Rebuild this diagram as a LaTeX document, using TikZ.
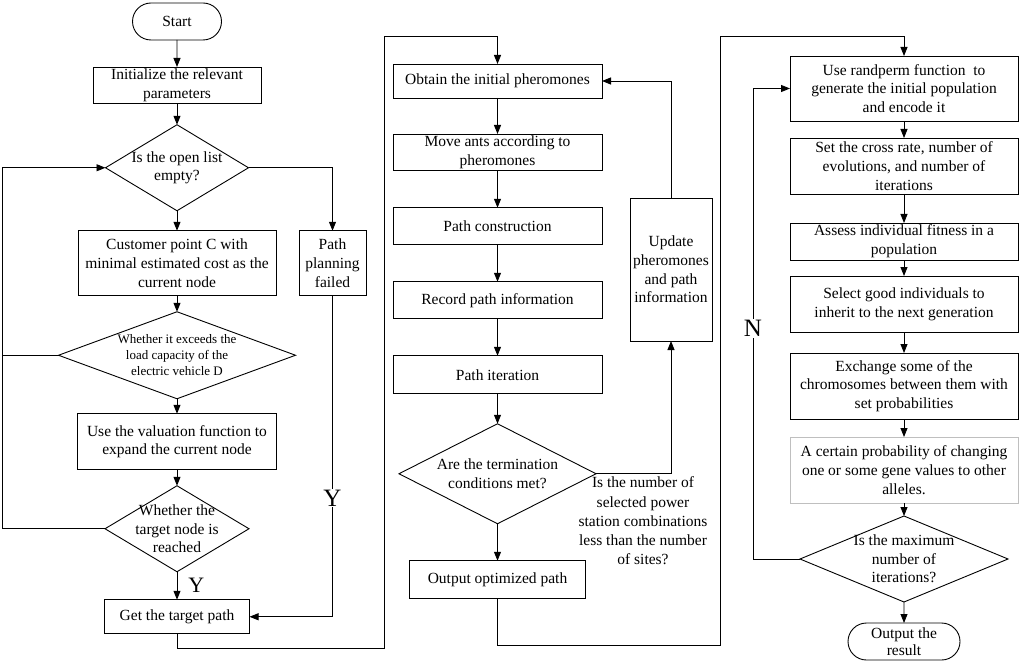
\documentclass[tikz,border=0pt]{standalone}
\usepackage{fontspec}
\setmainfont{Liberation Serif}
\usetikzlibrary{arrows.meta,positioning,shapes.geometric,shapes.misc}
\tikzset{
  base/.style={draw,line width=0.9pt,align=center,inner sep=2pt,outer sep=0pt,font=\fontsize{15.5}{18.7}\selectfont},
  term/.style={base,rounded rectangle},
  proc/.style={base,rectangle},
  decide/.style={base,diamond,inner sep=-10pt},
  note/.style={align=center,inner sep=1pt,font=\fontsize{15.5}{19.3}\selectfont},
  sz/.style 2 args={minimum width=#1,minimum height=#2},
  ylab/.style={fill=white,inner sep=1pt,font=\fontsize{25}{25}\selectfont}
}

\begin{document}
\begin{tikzpicture}[
    x=1pt,y=1pt,
    line width=0.9pt,
    >={Triangle[length=9pt,width=7pt]}
]
\useasboundingbox (0,0) rectangle (1024,-668);

% =========================================================
% Left column
% =========================================================

\node[term,sz={93pt}{37pt}] (start) at (177,-21.5) {Start};
\node[proc,sz={168pt}{35pt},below=27pt of start] (init) {Initialize the relevant\\parameters};
\node[decide,sz={143pt}{86pt},aspect=1.66,below=21pt of init] (open) {Is the open list\\empty?};
\node[proc,sz={198pt}{65pt},below=20pt of open] (cust) {Customer point C with\\minimal estimated cost as the\\current node};
\node[decide,sz={237pt}{87pt},aspect=2.72,below=16pt of cust,font=\fontsize{13}{16}\selectfont] (load) {Whether it exceeds the\\load capacity of the\\electric vehicle D};
\node[proc,sz={199pt}{56pt},below=15pt of load] (valu) {Use the valuation function to\\expand the current node};
\node[decide,sz={144pt}{86pt},aspect=1.67,below=16pt of valu] (reach) {Whether the\\target node is\\reached};
\node[proc,sz={145pt}{34pt},below=28pt of reach] (get) {Get the target path};

\node[proc,sz={67pt}{65pt},right=23pt of cust] (fail) {Path\\planning\\failed};

\coordinate (lp) at (2,0);

\draw[->] (start) -- (init);
\draw[->] (init) -- (open);
\draw[->] (open) -- (cust);
\draw[->] (cust) -- (load);
\draw[->] (load) -- (valu);
\draw[->] (valu) -- (reach);
\draw[->] (reach) -- node[ylab,right=10pt,font=\fontsize{22}{22}\selectfont] {Y} (get);

\draw[->] (load.west) -| (lp |- open.west) -- (open.west);
\draw (reach.west) -| (lp |- load.west);

\draw[->] (open.east) -| (fail.north);
\draw[->] (fail.south) |- node[ylab,pos=0.315] {Y} (get.east);


% =========================================================
% Middle column
% =========================================================

\node[proc,sz={209pt}{34pt}] (obtain) at (497.5,-81) {Obtain the initial pheromones};
\node[proc,sz={209pt}{34pt},below=36pt of obtain] (move) {Move ants according to\\pheromones};
\node[proc,sz={209pt}{37pt},below=37pt of move] (pcon) {Path construction};
\node[proc,sz={209pt}{37pt},below=37pt of pcon] (rec) {Record path information};
\node[proc,sz={209pt}{38pt},below=37pt of rec] (iter) {Path iteration};
\node[decide,sz={197pt}{100pt},aspect=1.97,below=30pt of iter] (stop) {Are the termination\\conditions met?};
\node[proc,sz={176pt}{38pt},below=37pt of stop] (outp) {Output optimized path};

\node[proc,sz={82pt}{143pt}] (upd) at (671,-269.5) {Update\\pheromones\\and path\\information};
\node[note] (ask) at (643,-521) {Is the number of\\selected power\\station combinations\\less than the number\\of sites?};

\coordinate (g1) at (384,-648);
\coordinate (g2) at (384,-36);

\draw[->] (get.south) |- (g1) -- (g2) -| (obtain.north);

\draw[->] (obtain) -- (move);
\draw[->] (move) -- (pcon);
\draw[->] (pcon) -- (rec);
\draw[->] (rec) -- (iter);
\draw[->] (iter) -- (stop);
\draw[->] (stop) -- (outp);

\draw[->] (stop.east) -| (upd.south);
\draw[->] (upd.north) |- (obtain.east);


% =========================================================
% Right column
% =========================================================

\node[proc,sz={228pt}{65pt}] (randp) at (904,-88.5) {Use randperm function~ to\\generate the initial population\\and encode it};
\node[proc,sz={228pt}{56pt},below=17pt of randp] (cross) {Set the cross rate, number of\\evolutions, and number of\\iterations};
\node[proc,sz={228pt}{37pt},below=29pt of cross] (fit) {Assess individual fitness in a\\population};
\node[proc,sz={228pt}{56pt},below=16pt of fit] (sel) {Select good individuals to\\inherit to the next generation};
\node[proc,sz={228pt}{66pt},below=21pt of sel] (exch) {Exchange some of the\\chromosomes between them with\\set probabilities};
\node[proc,sz={228pt}{66pt},below=18pt of exch,draw=black!25,inner xsep=1pt] (mut) {A certain probability of changing\\one or some gene values to other\\alleles.};
\node[decide,sz={208pt}{86pt},aspect=2.42,below=13pt of mut] (maxit) {Is the maximum\\number of\\iterations?};
\node[term,sz={116pt}{37pt},below=21pt of maxit,font=\fontsize{15.5}{17}\selectfont] (result) {Output the\\result};

\coordinate (m1) at (720,-645);
\coordinate (m2) at (720,-36);
\coordinate (nx) at (753,0);

\draw[->] (outp.south) |- (m1) -- (m2) -| (randp.north);

\draw[->] (randp) -- (cross);
\draw[->] (cross) -- (fit);
\draw[->] (fit) -- (sel);
\draw[->] (sel) -- (exch);
\draw[->] (exch) -- (mut);
\draw[->] (mut) -- (maxit);
\draw[->] (maxit) -- (result);

\draw[->] (maxit.west) -| node[ylab,pos=0.745] {N} (nx |- randp.west) -- (randp.west);

\end{tikzpicture}
\end{document}
